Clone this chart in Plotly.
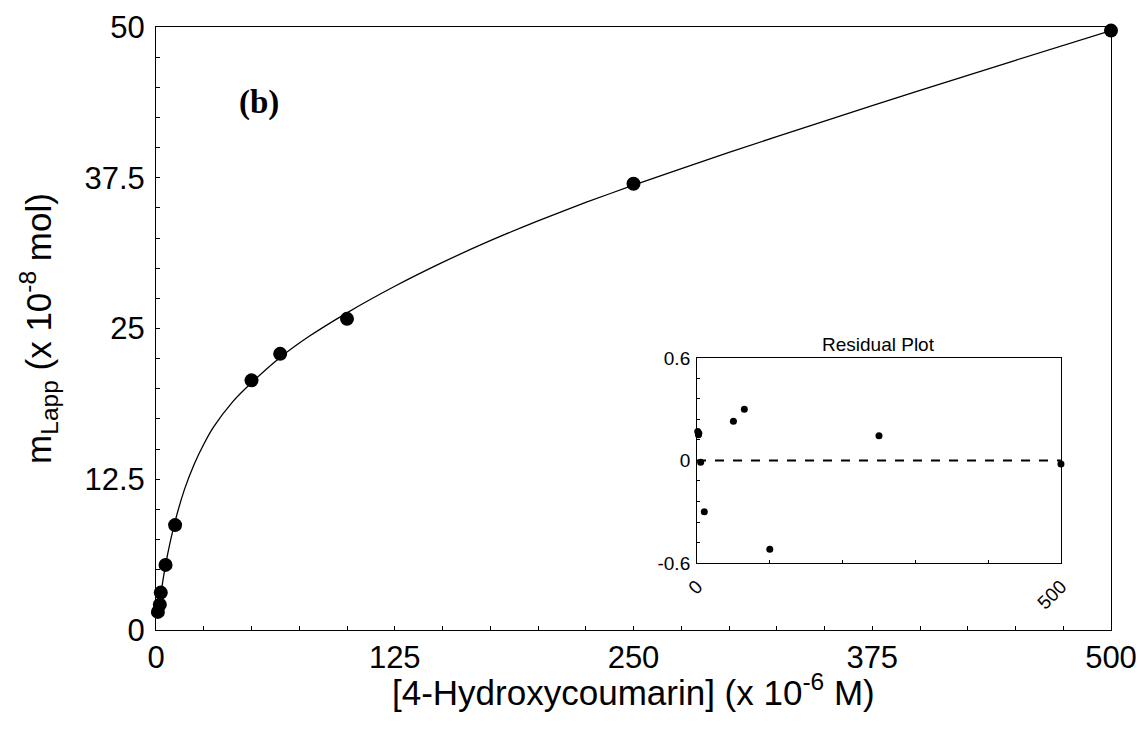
import plotly.graph_objects as go

# Observed data
conc = [1, 2, 2.5, 5, 10, 50, 65, 100, 250, 500]
m_lapp = [1.5, 2.1, 3.1, 5.4, 8.7, 20.7, 22.9, 25.8, 37.0, 49.7]

# Fitted curve
fit_x = [1, 2, 2.5, 5, 10, 15, 20, 25, 30, 40, 50, 65, 80, 100, 125, 150, 175,
         200, 225, 250, 300, 350, 400, 450, 500]
fit_y = [1.3, 2.4, 2.95, 5.4, 9.0, 11.7, 13.75, 15.4, 16.8, 18.9, 20.5, 22.6,
         24.33, 26.3, 28.5, 30.48, 32.28, 33.93, 35.45, 36.88, 39.6, 42.2,
         44.74, 47.24, 49.71]

# Residuals
res_x = [1, 2, 2.5, 5, 10, 50, 65, 100, 250, 500]
res_y = [0.17, 0.15, 0.16, -0.01, -0.30, 0.23, 0.30, -0.52, 0.145, -0.02]

x_ticks = [0, 125, 250, 375, 500]
y_ticks = [0, 12.5, 25, 37.5, 50]
y_ticktext = ["0", "12.5", "25", "37.5", "50"]
res_yticks = [-0.6, 0, 0.6]
res_yticktext = ["-0.6", "0", "0.6"]
res_xticks = [0, 500]

FONT = "Liberation Sans, Arial, sans-serif"

fig = go.Figure()

fig.add_trace(go.Scatter(x=fit_x, y=fit_y, mode="lines",
                         line=dict(color="black", width=1.3, shape="spline", smoothing=0.6),
                         showlegend=False, hoverinfo="skip"))
fig.add_trace(go.Scatter(x=conc, y=m_lapp, mode="markers",
                         marker=dict(color="black", size=14, symbol="circle"),
                         cliponaxis=False, showlegend=False))

fig.add_trace(go.Scatter(x=res_x, y=res_y, mode="markers", xaxis="x2", yaxis="y2",
                         marker=dict(color="black", size=7),
                         cliponaxis=False, showlegend=False))

fig.add_shape(type="line", xref="x2 domain", yref="y2", x0=0, x1=1, y0=0, y1=0,
              line=dict(color="black", width=2, dash="dash"))

fig.add_annotation(text="<b>(b)</b>", x=54, y=43.7, xref="x", yref="y",
                   showarrow=False, font=dict(family="Liberation Serif, Times New Roman, serif",
                                              size=33, color="black"))
fig.add_annotation(text="Residual Plot", x=0.5, y=1, xref="x2 domain", yref="y2 domain",
                   yanchor="bottom", yshift=1, showarrow=False,
                   font=dict(family=FONT, size=19, color="black"))
# x-axis title
fig.add_annotation(text="[4-Hydroxycoumarin] (x 10<sup>-6</sup> M)", x=0.5, y=-0.1,
                   xref="paper", yref="paper", xanchor="center", yanchor="middle",
                   showarrow=False, font=dict(family=FONT, size=35, color="black"))

axis_common = dict(showline=True, mirror=True, linecolor="black", linewidth=1,
                   showgrid=False, zeroline=False, ticks="inside", ticklen=4,
                   tickcolor="black", tickwidth=1, automargin=False)

fig.update_layout(
    width=1142, height=736,
    margin=dict(l=156, r=31, t=27, b=106),
    paper_bgcolor="white", plot_bgcolor="white",
    font=dict(family=FONT, color="black"),
    xaxis=dict(**axis_common, range=[0, 500], tickvals=x_ticks,
               minor=dict(dtick=25, ticks="inside", ticklen=4, tickcolor="black"),
               tickfont=dict(size=31), ticklabelstandoff=0,
               domain=[0, 1]),
    yaxis=dict(**axis_common, range=[0, 50], tickvals=y_ticks, ticktext=y_ticktext,
               minor=dict(dtick=2.5, ticks="inside", ticklen=4, tickcolor="black"),
               tickfont=dict(size=31), ticklabelstandoff=4,
               title=dict(text="m<sub>Lapp</sub> (x 10<sup>-8</sup> mol)",
                          font=dict(size=35), standoff=22),
               domain=[0, 1]),
    xaxis2=dict(**axis_common, anchor="y2", domain=[0.5665, 0.9476], range=[0, 500],
                tickvals=res_xticks, tickangle=-45,
                minor=dict(dtick=100, ticks="inside", ticklen=3, tickcolor="black"),
                tickfont=dict(size=19), ticklabelstandoff=4),
    yaxis2=dict(**axis_common, anchor="x2", domain=[0.1111, 0.4511], range=[-0.6, 0.6],
                tickvals=res_yticks, ticktext=res_yticktext,
                minor=dict(dtick=0.12, ticks="inside", ticklen=3, tickcolor="black"),
                tickfont=dict(size=19), ticklabelstandoff=2),
)

fig.write_html("out.html")
